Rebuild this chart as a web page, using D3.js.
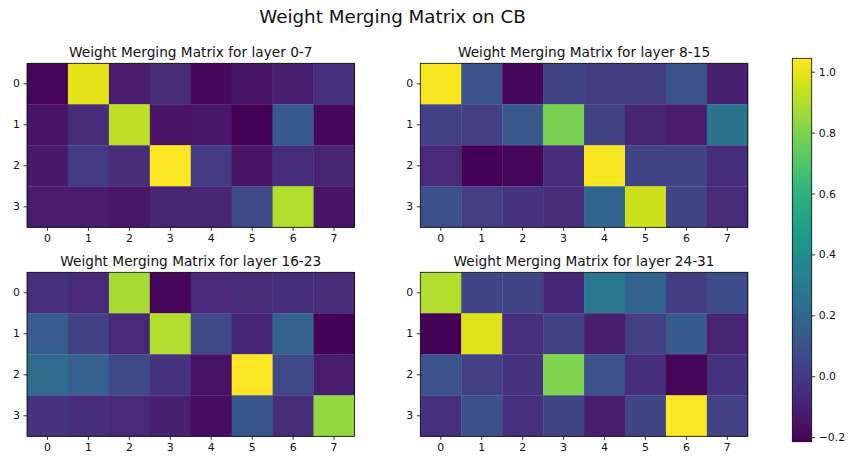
<!DOCTYPE html>
<html>
<head>
<meta charset="utf-8">
<script src="https://cdn.jsdelivr.net/npm/d3@7"></script>
<style>
  html, body { margin: 0; padding: 0; background: #fff; }
  svg { display: block; font-family: "DejaVu Sans", sans-serif; }
</style>
</head>
<body>
<svg id="chart" width="850" height="458"></svg>
<script>
// Merge weights: rows = merged experts (0-3), columns = source layers within group (0-7)
const colLabels = [0, 1, 2, 3, 4, 5, 6, 7];
const rowLabels = [0, 1, 2, 3];
const groupTitles = [
  "Weight Merging Matrix for layer 0-7",
  "Weight Merging Matrix for layer 8-15",
  "Weight Merging Matrix for layer 16-23",
  "Weight Merging Matrix for layer 24-31"
];
const layers0to7 = [
  [-0.20, 0.99, -0.12, -0.06, -0.19, -0.15, -0.11, -0.04],
  [-0.15, -0.06, 0.92, -0.15, -0.14, -0.21, 0.14, -0.19],
  [-0.13, 0.00, -0.06, 1.04, 0.00, -0.15, -0.05, -0.09],
  [-0.12, -0.12, -0.14, -0.09, -0.09, 0.07, 0.90, -0.15]
];
const layers8to15 = [
  [1.03, 0.11, -0.19, 0.04, 0.01, 0.01, 0.11, -0.10],
  [0.03, 0.02, 0.13, 0.79, 0.03, -0.09, -0.12, 0.27],
  [-0.07, -0.21, -0.20, -0.05, 1.03, 0.04, 0.04, -0.05],
  [0.09, 0.02, -0.03, -0.06, 0.19, 0.95, 0.04, -0.06]
];
const layers16to23 = [
  [-0.04, -0.07, 0.88, -0.20, -0.07, -0.06, -0.05, -0.06],
  [0.15, 0.03, -0.07, 0.90, 0.06, -0.08, 0.18, -0.21],
  [0.23, 0.17, 0.06, -0.03, -0.16, 1.04, 0.06, -0.12],
  [-0.03, -0.05, -0.07, -0.10, -0.17, 0.12, -0.06, 0.84]
];
const layers24to31 = [
  [0.90, 0.04, 0.04, -0.08, 0.28, 0.19, 0.01, 0.08],
  [-0.21, 0.98, -0.04, 0.03, -0.11, 0.02, 0.14, -0.09],
  [0.10, 0.02, -0.03, 0.80, 0.10, -0.05, -0.20, -0.03],
  [-0.04, 0.09, -0.04, 0.04, -0.11, 0.04, 1.04, 0.03]
];
const matrices = [layers0to7, layers8to15, layers16to23, layers24to31];
const colorDomain = [-0.215, 1.044];
const colorTicks = [-0.2, 0.0, 0.2, 0.4, 0.6, 0.8, 1.0];
const figureTitle = "Weight Merging Matrix on CB";

const svg = d3.select("#chart");
const color = d3.scaleSequential(d3.interpolateViridis).domain(colorDomain);
const fmtTick = v => (v < 0 ? "\u2212" : "") + Math.abs(v).toFixed(1);
const tickFont = 10.9, titleFont = 13.7, supFont = 18.3;

svg.append("text")
  .attr("x", 392.5).attr("y", 23)
  .attr("text-anchor", "middle")
  .attr("font-size", supFont)
  .attr("fill", "#111")
  .text(figureTitle);

// panel frames: [left, top]
const panelW = 327.5, panelH = 164;
const panelPos = [[27, 63.3], [420.3, 63.3], [27, 272.3], [420.3, 272.3]];

matrices.forEach((m, i) => {
  const [px, py] = panelPos[i];
  const g = svg.append("g").attr("transform", `translate(${px},${py})`);
  const x = d3.scaleBand().domain(colLabels).range([0, panelW]);
  const y = d3.scaleBand().domain(rowLabels).range([0, panelH]);

  const cells = [];
  m.forEach((row, r) => row.forEach((v, c) => cells.push({ r, c, v })));
  g.selectAll("rect.cell").data(cells).join("rect")
    .attr("class", "cell")
    .attr("x", d => x(d.c))
    .attr("y", d => y(d.r))
    .attr("width", x.bandwidth() + 0.3)
    .attr("height", y.bandwidth() + 0.3)
    .attr("fill", d => color(d.v));

  g.append("rect")
    .attr("width", panelW).attr("height", panelH)
    .attr("fill", "none").attr("stroke", "#000").attr("stroke-width", 0.8);

  const xAxis = g.append("g").attr("transform", `translate(0,${panelH})`)
    .call(d3.axisBottom(x).tickSize(3.5).tickPadding(3.5).tickSizeOuter(0));
  const yAxis = g.append("g")
    .call(d3.axisLeft(y).tickSize(3.5).tickPadding(3.5).tickSizeOuter(0));
  [xAxis, yAxis].forEach(a => {
    a.select(".domain").remove();
    a.selectAll("line").attr("stroke", "#000").attr("stroke-width", 0.8);
    a.selectAll("text").attr("font-size", tickFont).attr("fill", "#111")
      .attr("font-family", "DejaVu Sans, sans-serif");
  });

  g.append("text")
    .attr("x", panelW / 2).attr("y", -6.3)
    .attr("text-anchor", "middle")
    .attr("font-size", titleFont)
    .attr("fill", "#111")
    .text(groupTitles[i]);
});

// colorbar
const cbX = 792.3, cbY = 58.3, cbW = 19.4, cbH = 383.4;
const defs = svg.append("defs");
const grad = defs.append("linearGradient").attr("id", "viridisGrad")
  .attr("x1", 0).attr("y1", 1).attr("x2", 0).attr("y2", 0);
d3.range(0, 1.0001, 0.02).forEach(t => {
  grad.append("stop").attr("offset", t).attr("stop-color", d3.interpolateViridis(t));
});
svg.append("rect")
  .attr("x", cbX).attr("y", cbY).attr("width", cbW).attr("height", cbH)
  .attr("fill", "url(#viridisGrad)")
  .attr("stroke", "#000").attr("stroke-width", 0.8);

const cbScale = d3.scaleLinear().domain(colorDomain).range([cbY + cbH, cbY]);
const cbAxis = svg.append("g").attr("transform", `translate(${cbX + cbW},0)`)
  .call(d3.axisRight(cbScale).tickValues(colorTicks).tickFormat(fmtTick)
    .tickSize(3.5).tickPadding(3.5).tickSizeOuter(0));
cbAxis.select(".domain").remove();
cbAxis.selectAll("line").attr("stroke", "#000").attr("stroke-width", 0.8);
cbAxis.selectAll("text").attr("font-size", tickFont).attr("fill", "#111")
  .attr("font-family", "DejaVu Sans, sans-serif");
</script>
</body>
</html>
